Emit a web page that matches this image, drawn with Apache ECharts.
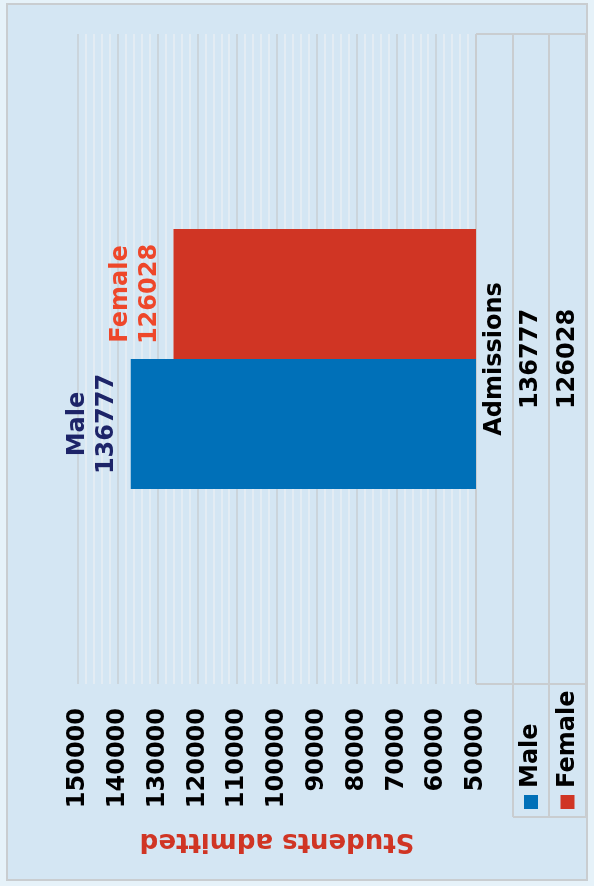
<!DOCTYPE html>
<html>
<head>
<meta charset="utf-8">
<title>Students admitted</title>
<script src="https://cdn.jsdelivr.net/npm/echarts@6/dist/echarts.min.js"></script>
<style>
  html, body { margin: 0; padding: 0; background: #e6f2f9; overflow: hidden; }
  /* the chart is drawn landscape and turned a quarter to the left */
  #main {
    position: absolute; left: 0; top: 0;
    width: 886px; height: 594px;
    transform-origin: 0 0;
    transform: translate(0, 886px) rotate(-90deg);
  }
</style>
</head>
<body>
<div id="main"></div>
<script>
const categories = ['Admissions']
const seriesNames = ['Male', 'Female']
const maleValues = [136777]
const femaleValues = [126028]
const axisMin = 50000
const axisMax = 150000
const axisStep = 10000
const axisTitle = 'Students admitted'

const barColors = ['#0070b8', '#d03524']
const labelColors = ['#1d2468', '#ee472a']
const font = 'DejaVu Sans'

// plot box (landscape coordinates)
const G = { left: 202, top: 78, width: 650, height: 398 }
const rowH = [37, 36, 37]
const legendLeft = 69

const chart = echarts.init(document.getElementById('main'))

const option = {
  animation: false,
  textStyle: { fontFamily: font },
  grid: { left: G.left, top: G.top, width: G.width, height: G.height },
  xAxis: {
    type: 'category',
    data: categories,
    axisLine: { show: false },
    axisTick: { show: false },
    axisLabel: { show: false },
    splitLine: { show: false }
  },
  yAxis: {
    type: 'value',
    min: axisMin,
    max: axisMax,
    interval: axisStep,
    name: axisTitle,
    nameLocation: 'middle',
    nameRotate: 90,
    nameGap: 144,
    nameTextStyle: { color: '#d03524', fontSize: 26, fontWeight: 'bold', fontFamily: font },
    axisLine: { show: false },
    axisTick: { show: false },
    axisLabel: {
      color: '#000', fontSize: 24, fontWeight: 'bold', margin: 24, fontFamily: font,
      formatter: v => String(v)
    },
    splitLine: { lineStyle: { color: '#c8cfd4', width: 1.5 } },
    minorTick: { show: false, splitNumber: 5 },
    minorSplitLine: { show: true, lineStyle: { color: '#e8eef3', width: 1.5 } }
  },
  series: [
    { name: seriesNames[0], data: maleValues },
    { name: seriesNames[1], data: femaleValues }
  ].map((s, i) => ({
    name: s.name,
    type: 'bar',
    data: s.data,
    barGap: 0,
    barCategoryGap: '60%',
    itemStyle: { color: barColors[i] },
    label: {
      show: true,
      position: 'top',
      distance: 9,
      formatter: '{a}\n{c}',
      color: labelColors[i],
      fontSize: 24,
      fontWeight: 'bold',
      lineHeight: 29,
      fontFamily: font
    }
  }))
}
chart.setOption(option)

// panel behind the chart and the data table under it
const cx = chart.convertToPixel({ xAxisIndex: 0 }, categories[0])
const y0 = G.top + G.height
const y1 = y0 + rowH[0]
const y2 = y1 + rowH[1]
const y3 = y2 + rowH[2]
const xR = G.left + G.width
const lineStyle = { stroke: '#c9cdd0', lineWidth: 2 }
const line = (x1, ya, x2, yb) => ({ type: 'line', shape: { x1: x1, y1: ya, x2: x2, y2: yb }, style: lineStyle, silent: true })
const txt = (x, y, t, align) => ({
  type: 'text', x: x, y: y,
  style: { text: t, fill: '#000', font: 'bold 24px "' + font + '"', align: align, verticalAlign: 'middle' }
})
const rows = [maleValues, femaleValues]

chart.setOption({
  graphic: [
    { type: 'rect', z: -10, shape: { x: 6, y: 7, width: 876, height: 580 },
      style: { fill: '#d4e6f3', stroke: '#c9cdd0', lineWidth: 2 }, silent: true },
    line(G.left, y0, xR, y0),
    line(legendLeft, y1, xR, y1),
    line(legendLeft, y2, xR, y2),
    line(legendLeft, y3, xR, y3),
    line(xR, y0, xR, y3),
    line(G.left, y0, G.left, y3),
    line(legendLeft, y1, legendLeft, y3),
    txt(cx, (y0 + y1) / 2, categories[0], 'center')
  ].concat(rows.map((r, i) => {
    const yc = [(y1 + y2) / 2, (y2 + y3) / 2][i]
    return [
      txt(cx, yc, String(r[0]), 'center'),
      { type: 'rect', shape: { x: legendLeft + 8, y: yc - 7, width: 14, height: 14 }, style: { fill: barColors[i] }, silent: true },
      txt(legendLeft + 29, yc, seriesNames[i], 'left')
    ]
  }).flat())
})
</script>
</body>
</html>
